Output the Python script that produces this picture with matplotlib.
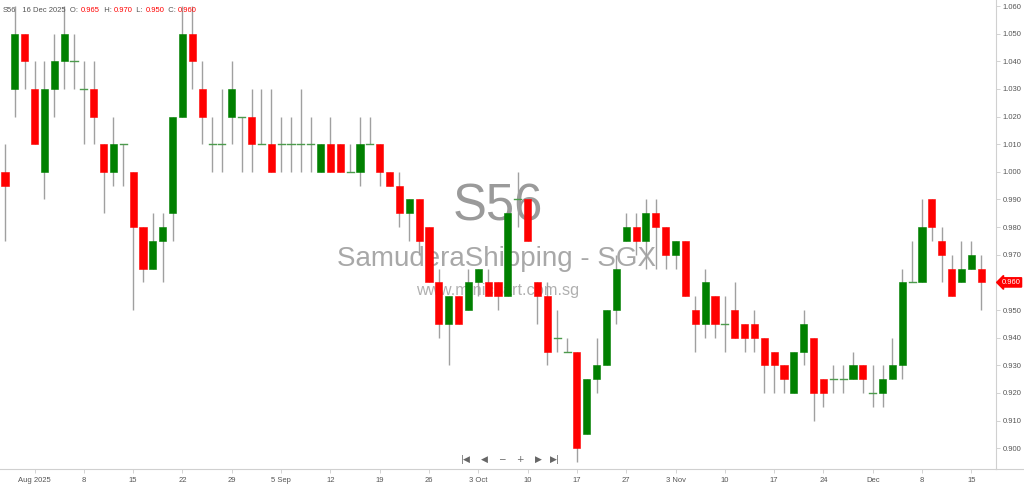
import matplotlib
matplotlib.use("Agg")
import matplotlib.pyplot as plt
from matplotlib.patches import Rectangle
import numpy as np

plt.rcParams['font.family'] = ['Liberation Sans', 'DejaVu Sans']

# Daily OHLC, 29 Jul 2025 .. 16 Dec 2025 (trading days)
opens = [1.000, 1.030, 1.050, 1.030, 1.000, 1.030, 1.040, 1.040, 1.030, 1.030,
         1.010, 1.000, 1.010, 1.000, 0.980, 0.965, 0.975, 0.985, 1.020, 1.050,
         1.030, 1.010, 1.010, 1.020, 1.020, 1.020, 1.010, 1.010, 1.010, 1.010,
         1.010, 1.010, 1.000, 1.010, 1.010, 1.000, 1.000, 1.010, 1.010, 1.000,
         0.995, 0.985, 0.990, 0.980, 0.960, 0.945, 0.955, 0.950, 0.960, 0.960,
         0.960, 0.955, 0.990, 0.990, 0.960, 0.955, 0.940, 0.935, 0.935, 0.905,
         0.925, 0.930, 0.950, 0.975, 0.980, 0.975, 0.985, 0.980, 0.970, 0.975,
         0.950, 0.945, 0.955, 0.945, 0.950, 0.945, 0.945, 0.940, 0.935, 0.930,
         0.920, 0.935, 0.940, 0.925, 0.925, 0.925, 0.925, 0.930, 0.920, 0.920,
         0.925, 0.930, 0.960, 0.960, 0.990, 0.975, 0.965, 0.960, 0.965, 0.965]
highs = [1.010, 1.060, 1.050, 1.040, 1.040, 1.050, 1.060, 1.050, 1.040, 1.040,
         1.010, 1.020, 1.010, 1.000, 0.980, 0.985, 0.985, 1.020, 1.060, 1.060,
         1.040, 1.020, 1.030, 1.040, 1.020, 1.030, 1.030, 1.030, 1.020, 1.020,
         1.030, 1.020, 1.010, 1.020, 1.010, 1.010, 1.020, 1.020, 1.010, 1.000,
         1.000, 0.990, 0.990, 0.980, 0.965, 0.955, 0.955, 0.965, 0.965, 0.965,
         0.960, 0.985, 1.000, 0.990, 0.960, 0.960, 0.950, 0.940, 0.935, 0.925,
         0.940, 0.950, 0.970, 0.985, 0.985, 0.990, 0.990, 0.980, 0.975, 0.975,
         0.955, 0.965, 0.955, 0.955, 0.960, 0.945, 0.950, 0.940, 0.935, 0.930,
         0.935, 0.950, 0.940, 0.925, 0.930, 0.930, 0.935, 0.930, 0.930, 0.930,
         0.940, 0.965, 0.975, 0.990, 0.990, 0.980, 0.970, 0.975, 0.975, 0.970]
lows = [0.975, 1.020, 1.030, 1.010, 0.990, 1.020, 1.030, 1.030, 1.010, 1.010,
        0.985, 0.995, 0.995, 0.950, 0.960, 0.965, 0.960, 0.975, 1.020, 1.030,
        1.010, 1.000, 1.000, 1.010, 1.000, 1.000, 1.010, 1.000, 1.000, 1.000,
        1.000, 1.000, 1.000, 1.000, 1.000, 1.000, 0.995, 1.010, 0.995, 0.995,
        0.980, 0.975, 0.970, 0.960, 0.940, 0.930, 0.945, 0.950, 0.955, 0.955,
        0.950, 0.955, 0.980, 0.975, 0.945, 0.930, 0.935, 0.935, 0.895, 0.905,
        0.920, 0.930, 0.945, 0.975, 0.970, 0.965, 0.965, 0.965, 0.965, 0.955,
        0.935, 0.940, 0.940, 0.935, 0.940, 0.935, 0.935, 0.920, 0.920, 0.920,
        0.920, 0.930, 0.910, 0.915, 0.920, 0.920, 0.925, 0.920, 0.915, 0.915,
        0.925, 0.925, 0.960, 0.960, 0.975, 0.960, 0.955, 0.960, 0.965, 0.950]
closes = [0.995, 1.050, 1.040, 1.010, 1.030, 1.040, 1.050, 1.040, 1.030, 1.020,
          1.000, 1.010, 1.010, 0.980, 0.965, 0.975, 0.980, 1.020, 1.050, 1.040,
          1.020, 1.010, 1.010, 1.030, 1.020, 1.010, 1.010, 1.000, 1.010, 1.010,
          1.010, 1.010, 1.010, 1.000, 1.000, 1.000, 1.010, 1.010, 1.000, 0.995,
          0.985, 0.990, 0.975, 0.960, 0.945, 0.955, 0.945, 0.960, 0.965, 0.955,
          0.955, 0.985, 0.990, 0.975, 0.955, 0.935, 0.940, 0.935, 0.900, 0.925,
          0.930, 0.950, 0.965, 0.980, 0.975, 0.985, 0.980, 0.970, 0.975, 0.955,
          0.945, 0.960, 0.945, 0.945, 0.940, 0.940, 0.940, 0.930, 0.930, 0.925,
          0.935, 0.945, 0.920, 0.920, 0.925, 0.925, 0.930, 0.925, 0.920, 0.925,
          0.930, 0.960, 0.960, 0.980, 0.980, 0.970, 0.955, 0.965, 0.970, 0.960]

tick_idx = [3, 8, 13, 18, 23, 28, 33, 38, 43, 48, 53, 58, 63, 68, 73, 78, 83, 88, 93, 98]
tick_labels = ["Aug 2025", "8", "15", "22", "29", "5 Sep", "12", "19", "26", "3 Oct",
               "10", "17", "27", "3 Nov", "10", "17", "24", "Dec", "8", "15"]
y_ticks = [1.060, 1.050, 1.040, 1.030, 1.020, 1.010, 1.000, 0.990, 0.980, 0.970,
           0.960, 0.950, 0.940, 0.930, 0.920, 0.910, 0.900]

symbol = "S56"
last_date = "16 Dec 2025"
title_big = "S56"
title_name = "SamuderaShipping - SGX"
site = "www.minichart.com.sg"

W, H = 1024, 484
fig = plt.figure(figsize=(W / 100, H / 100), dpi=100)
fig.patch.set_facecolor("white")
ax = fig.add_axes([0, 15 / H, 996 / W, 1 - 15 / H])
ax.set_facecolor("white")

GREEN = "#008000"
RED = "#ff0000"
WICK = "#a0a0a0"
bw = 0.72

# watermark
ax.text(0.4995, 0.558, title_big, transform=ax.transAxes, ha="center", va="center",
        fontsize=36.5, color="#9a9a9a", zorder=0)
ax.text(0.4985, 0.447, title_name, transform=ax.transAxes, ha="center", va="center",
        fontsize=20, color="#a8a8a8", zorder=0)
ax.text(0.4995, 0.38, site, transform=ax.transAxes, ha="center", va="center",
        fontsize=11.8, color="#b0b0b0", zorder=0)

x = np.arange(len(opens))
for i in x:
    o, h, l, c = opens[i], highs[i], lows[i], closes[i]
    ax.plot([i, i], [l, h], color=WICK, lw=1.0, zorder=2, solid_capstyle="butt")
    if abs(c - o) < 1e-9:
        ax.plot([i - bw / 2, i + bw / 2], [o, o], color="#4c9a4c", lw=1.0, zorder=3)
    else:
        col = GREEN if c > o else RED
        ax.add_patch(Rectangle((i - bw / 2, min(o, c)), bw, abs(c - o),
                               facecolor=col, edgecolor=col, lw=0.4, zorder=3))

def p_of(ypix):
    return 1.060 - (ypix - 6) / 2764.0

ax.set_ylim(p_of(469), p_of(0))
ax.set_xlim(-0.507, 100.5)

ax.yaxis.tick_right()
ax.set_yticks(y_ticks)
ax.set_yticklabels([f"{v:.3f}" for v in y_ticks])
ax.tick_params(axis="y", length=3, width=0.6, color="#cccccc", labelsize=5.5,
               labelcolor="#555555", pad=2)
ax.set_xticks(tick_idx)
ax.set_xticklabels(tick_labels)
ax.tick_params(axis="x", length=3, width=0.6, color="#cccccc", labelsize=5.5,
               labelcolor="#555555", pad=3)
for s in ["top", "left"]:
    ax.spines[s].set_visible(False)
ax.spines["right"].set_color("#d0d0d0")
ax.spines["right"].set_linewidth(0.8)
ax.spines["bottom"].set_color("#d0d0d0")
ax.spines["bottom"].set_linewidth(0.8)

# extend bottom line to the right edge
fig.add_artist(plt.Line2D([996 / W, 1], [15 / H, 15 / H], color="#d0d0d0", lw=0.8))

# last price tag
last = closes[-1]
ax.annotate(f"{last:.3f}", xy=(1.0, last), xycoords=("axes fraction", "data"),
            xytext=(4, 0), textcoords="offset points", ha="left", va="center",
            fontsize=5.5, color="white",
            bbox=dict(boxstyle="larrow,pad=0.15", fc=RED, ec=RED), annotation_clip=False)

# header
parts = [(symbol, "#555555"), ("   " + last_date + "  O: ", "#555555"),
         (f"{opens[-1]:.3f}", RED), ("  H: ", "#555555"), (f"{highs[-1]:.3f}", RED),
         ("  L: ", "#555555"), (f"{lows[-1]:.3f}", RED), ("  C: ", "#555555"),
         (f"{closes[-1]:.3f}", RED)]
renderer = fig.canvas.get_renderer()
cur = 3
for txt, col in parts:
    t = fig.text(cur / W, 1 - 10 / H, txt, fontsize=5.5, color=col, ha="left", va="center")
    bb = t.get_window_extent(renderer=renderer)
    cur += bb.width

# navigation controls
nav = [("|◀", 466), ("◀", 484), ("−", 502), ("+", 520), ("▶", 538), ("▶|", 555)]
for s, px in nav:
    fig.text(px / W, 1 - 459 / H, s, fontsize=6.5, color="#666666", ha="center", va="center",
             family=["DejaVu Sans"])

fig.savefig("out.png", dpi=100, facecolor="white")
